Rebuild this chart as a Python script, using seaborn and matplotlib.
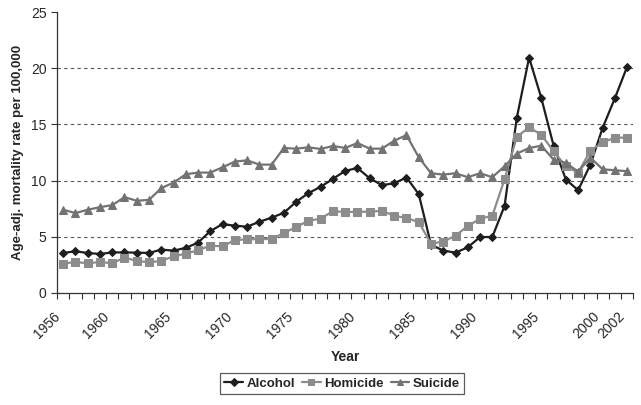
import matplotlib
matplotlib.use("Agg")
import matplotlib.pyplot as plt
import matplotlib.transforms as mtransforms
import seaborn as sns
import pandas as pd
import numpy as np
from matplotlib.ticker import FixedLocator, MultipleLocator

years = list(range(1956, 2003))
alcohol = [3.55, 3.7, 3.55, 3.46, 3.6, 3.6, 3.58, 3.55, 3.85, 3.76, 4.0, 4.47, 5.5, 6.12,
           5.98, 5.89, 6.33, 6.69, 7.13, 8.1, 8.88, 9.44, 10.15, 10.86, 11.12, 10.2, 9.59,
           9.76, 10.27, 8.79, 4.29, 3.76, 3.58, 4.05, 4.97, 4.97, 7.75, 15.6, 20.95, 17.34,
           13.1, 10.09, 9.14, 11.42, 14.7, 17.34, 20.15]
homicide = [2.6, 2.75, 2.63, 2.75, 2.63, 3.14, 2.84, 2.72, 2.84, 3.25, 3.49, 3.79, 4.2, 4.14,
            4.7, 4.76, 4.79, 4.79, 5.33, 5.86, 6.42, 6.6, 7.28, 7.19, 7.22, 7.22, 7.31, 6.86,
            6.66, 6.3, 4.38, 4.56, 5.09, 5.95, 6.6, 6.86, 10.12, 13.9, 14.73, 14.08, 12.6,
            11.27, 10.7, 12.66, 13.4, 13.82, 13.82]
suicide = [7.4, 7.1, 7.4, 7.63, 7.81, 8.52, 8.2, 8.28, 9.32, 9.82, 10.56, 10.71, 10.71, 11.18,
           11.69, 11.8, 11.42, 11.42, 12.9, 12.84, 12.96, 12.81, 13.08, 12.9, 13.34, 12.84,
           12.84, 13.55, 14.05, 12.07, 10.65, 10.53, 10.65, 10.3, 10.65, 10.3, 11.27, 12.4,
           12.9, 13.1, 11.86, 11.57, 10.8, 12.04, 11.0, 10.92, 10.83]
tick_years = [1956, 1960, 1965, 1970, 1975, 1980, 1985, 1990, 1995, 2000, 2002]

df = pd.DataFrame({"Year": years, "Alcohol": alcohol, "Homicide": homicide, "Suicide": suicide})
long = df.melt(id_vars="Year", var_name="Cause", value_name="Rate")

sns.set_style("white")
plt.rcParams["font.family"] = ["Liberation Sans", "DejaVu Sans"]

fig = plt.figure(figsize=(6.41, 4.05), dpi=100)
ax = fig.add_axes([0.089, 0.277, 0.899, 0.693])

styles = {
    "Alcohol": dict(color="#1e1e1e", marker="D", markersize=4.5),
    "Homicide": dict(color="#8c8c8c", marker="s", markersize=5.5),
    "Suicide": dict(color="#737373", marker="^", markersize=6),
}
for cause, st in styles.items():
    sub = long[long["Cause"] == cause]
    sns.lineplot(data=sub, x="Year", y="Rate", ax=ax, color=st["color"], marker=st["marker"],
                 markersize=st["markersize"], markeredgecolor=st["color"], linewidth=1.6,
                 label=cause, legend=False)

ax.set_xlim(1955.5, 2002.5)
ax.set_ylim(0, 25)
ax.yaxis.set_major_locator(MultipleLocator(5))
ax.set_xticks(tick_years)
ax.set_xticklabels([str(y) for y in tick_years], rotation=45, ha="right", va="top", fontsize=10)
offset = mtransforms.ScaledTranslation(-4 / 100, 0, fig.dpi_scale_trans)
for lab in ax.get_xticklabels():
    lab.set_transform(lab.get_transform() + offset)
ax.xaxis.set_minor_locator(FixedLocator(np.arange(1955.5, 2003, 1.0)))
ax.tick_params(axis="x", which="major", length=0, pad=12)
ax.tick_params(axis="x", which="minor", length=4, width=0.8, color="#333333", direction="out", bottom=True)
ax.tick_params(axis="y", which="major", length=4, width=0.8, color="#333333", direction="out", left=True,
               labelsize=10)

for v in [5, 10, 15, 20]:
    ax.axhline(v, color="#555555", linestyle=(0, (3, 3)), linewidth=0.8, zorder=0)

for s in ["top", "right"]:
    ax.spines[s].set_visible(False)
for s in ["left", "bottom"]:
    ax.spines[s].set_color("#333333")
    ax.spines[s].set_linewidth(0.9)

ax.set_xlabel("Year", fontsize=10, fontweight="bold", labelpad=6)
ax.set_ylabel("Age-adj. mortality rate per 100,000", fontsize=9.5, fontweight="bold", labelpad=5)

handles, labels = ax.get_legend_handles_labels()
leg = fig.legend(handles, labels, loc="center", bbox_to_anchor=(0.534, 0.053), ncol=3,
                 frameon=True, fancybox=False, edgecolor="#333333", handlelength=1.4,
                 handletextpad=0.3, columnspacing=0.5, borderpad=0.3, markerscale=0.8,
                 prop={"weight": "bold", "size": 9.5})
leg.get_frame().set_linewidth(0.9)

fig.savefig("out.png", dpi=100)
